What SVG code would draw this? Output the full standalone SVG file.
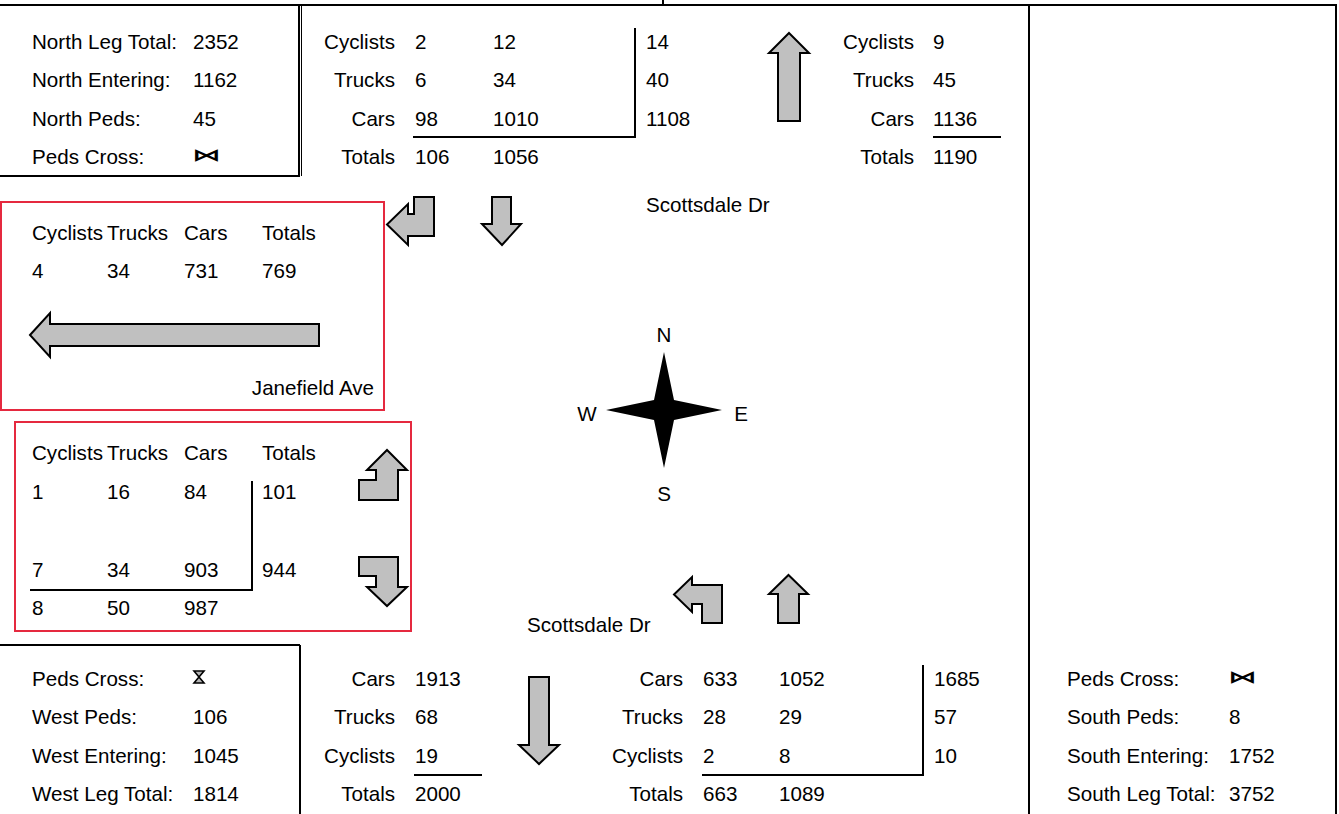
<svg xmlns="http://www.w3.org/2000/svg" width="1339" height="814" viewBox="0 0 1339 814">
<style>
.t{font-family:"Liberation Sans",Arial,sans-serif;font-size:20.6px;fill:#000}
.e{text-anchor:end}
.m{text-anchor:middle}
.ln{stroke:#000;stroke-width:2;fill:none}
.red{stroke:#e5293f;stroke-width:2;fill:none}
.arr{fill:#c0c0c0;stroke:#000;stroke-width:2;stroke-linejoin:miter}
.bt{font-family:"DejaVu Sans",sans-serif;font-weight:bold;font-size:22px;fill:#000}
</style>
<rect width="1339" height="814" fill="#fff"/>
<g id="frame">
<line class="ln" x1="0" y1="5" x2="1337" y2="5"/>
<line class="ln" x1="663" y1="0" x2="663" y2="5"/>
<line class="ln" x1="1336" y1="5" x2="1336" y2="814"/>
<line class="ln" x1="1029" y1="5" x2="1029" y2="814"/>
<line class="ln" x1="299" y1="5" x2="299" y2="176"/>
<line class="ln" x1="301.5" y1="5" x2="301.5" y2="176" style="stroke-width:1"/>
<line class="ln" x1="0" y1="176" x2="300" y2="176"/>
<line class="ln" x1="0" y1="645" x2="300" y2="645"/>
<line class="ln" x1="300" y1="645" x2="300" y2="814"/>
</g>
<g id="north-summary">
<text class="t" x="32" y="48.5">North Leg Total:</text>
<text class="t" x="193" y="48.5">2352</text>
<text class="t" x="32" y="87">North Entering:</text>
<text class="t" x="193" y="87">1162</text>
<text class="t" x="32" y="125.5">North Peds:</text>
<text class="t" x="193" y="125.5">45</text>
<text class="t" x="32" y="163.5">Peds Cross:</text>
<text class="bt" transform="translate(192,161) scale(1.3,0.8)">⋈</text>
</g>
<g id="north-approach">
<text class="t e" x="395" y="48.5">Cyclists</text>
<text class="t e" x="395" y="87">Trucks</text>
<text class="t e" x="395" y="125.5">Cars</text>
<text class="t e" x="395" y="163.5">Totals</text>
<text class="t" x="415" y="48.5">2</text>
<text class="t" x="415" y="87">6</text>
<text class="t" x="415" y="125.5">98</text>
<text class="t" x="415" y="163.5">106</text>
<text class="t" x="493" y="48.5">12</text>
<text class="t" x="493" y="87">34</text>
<text class="t" x="493" y="125.5">1010</text>
<text class="t" x="493" y="163.5">1056</text>
<text class="t" x="646" y="48.5">14</text>
<text class="t" x="646" y="87">40</text>
<text class="t" x="646" y="125.5">1108</text>
<polyline class="ln" points="413,137 635,137 635,28"/>
</g>
<g id="north-exit">
<polygon class="arr" points="789,33 809,53 800,53 800,121 778,121 778,53 769,53"/>
<text class="t e" x="914" y="48.5">Cyclists</text>
<text class="t e" x="914" y="87">Trucks</text>
<text class="t e" x="914" y="125.5">Cars</text>
<text class="t e" x="914" y="163.5">Totals</text>
<text class="t" x="933" y="48.5">9</text>
<text class="t" x="933" y="87">45</text>
<text class="t" x="933" y="125.5">1136</text>
<text class="t" x="933" y="163.5">1190</text>
<line class="ln" x1="933" y1="137" x2="1001" y2="137"/>
</g>
<g id="north-label">
<text class="t" x="646" y="212">Scottsdale Dr</text>
</g>
<g id="north-arrows">
<polygon class="arr" points="434,197 434,236 408,236 408,245 387,224.5 408,204 408,214 414,214 414,197"/>
<polygon class="arr" points="492,197 511,197 511,224 521,224 502,245 482,224 492,224"/>
</g>
<g id="west-exit">
<rect class="red" x="1" y="202" width="383" height="208"/>
<text class="t" x="32" y="240">Cyclists</text>
<text class="t" x="107" y="240">Trucks</text>
<text class="t" x="184" y="240">Cars</text>
<text class="t" x="262" y="240">Totals</text>
<text class="t" x="32" y="278">4</text>
<text class="t" x="107" y="278">34</text>
<text class="t" x="184" y="278">731</text>
<text class="t" x="262" y="278">769</text>
<polygon class="arr" points="30,335 50,313 50,324 319,324 319,346 50,346 50,357"/>
<text class="t e" x="374" y="395">Janefield Ave</text>
</g>
<g id="west-approach">
<rect class="red" x="15" y="422" width="396" height="209"/>
<text class="t" x="32" y="460">Cyclists</text>
<text class="t" x="107" y="460">Trucks</text>
<text class="t" x="184" y="460">Cars</text>
<text class="t" x="262" y="460">Totals</text>
<text class="t" x="32" y="499">1</text>
<text class="t" x="107" y="499">16</text>
<text class="t" x="184" y="499">84</text>
<text class="t" x="262" y="499">101</text>
<text class="t" x="32" y="577">7</text>
<text class="t" x="107" y="577">34</text>
<text class="t" x="184" y="577">903</text>
<text class="t" x="262" y="577">944</text>
<text class="t" x="32" y="615">8</text>
<text class="t" x="107" y="615">50</text>
<text class="t" x="184" y="615">987</text>
<polyline class="ln" points="30,590 252,590 252,481"/>
<polygon class="arr" points="359,500 359,480 376,480 376,470 367,470 387,450 407,470 398,470 398,500"/>
<polygon class="arr" points="359,557 398,557 398,587 407,587 387,606 367,587 376,587 376,576 359,576"/>
</g>
<g id="compass">
<path d="M664,352 L674,400 L722,410 L674,420 L664,468 L654,420 L606,410 L654,400 Z" fill="#000"/>
<text class="t m" x="664" y="342">N</text>
<text class="t m" x="587" y="421">W</text>
<text class="t m" x="741" y="421">E</text>
<text class="t m" x="664" y="501">S</text>
</g>
<g id="south-label">
<text class="t" x="527" y="632">Scottsdale Dr</text>
</g>
<g id="south-arrows">
<polygon class="arr" points="674,594.5 692,577 692,585 722,585 722,623 702,623 702,604 692,604 692,612"/>
<polygon class="arr" points="788.5,575 808,594 799,594 799,623 778,623 778,594 769,594"/>
</g>
<g id="west-summary">
<text class="t" x="32" y="686">Peds Cross:</text>
<path d="M194,671 H204 L199,677 L204,683 H194 L199,677 Z" fill="#b4b4b4" stroke="#000" stroke-width="1.6" stroke-linejoin="miter"/>
<text class="t" x="32" y="724">West Peds:</text>
<text class="t" x="193" y="724">106</text>
<text class="t" x="32" y="762.5">West Entering:</text>
<text class="t" x="193" y="762.5">1045</text>
<text class="t" x="32" y="801">West Leg Total:</text>
<text class="t" x="193" y="801">1814</text>
</g>
<g id="south-exit">
<text class="t e" x="395" y="686">Cars</text>
<text class="t e" x="395" y="724">Trucks</text>
<text class="t e" x="395" y="762.5">Cyclists</text>
<text class="t e" x="395" y="801">Totals</text>
<text class="t" x="415" y="686">1913</text>
<text class="t" x="415" y="724">68</text>
<text class="t" x="415" y="762.5">19</text>
<text class="t" x="415" y="801">2000</text>
<line class="ln" x1="414" y1="775" x2="482" y2="775"/>
<polygon class="arr" points="529,677 549,677 549,745 559,745 539,764 519,745 529,745"/>
</g>
<g id="south-approach">
<text class="t e" x="683" y="686">Cars</text>
<text class="t e" x="683" y="724">Trucks</text>
<text class="t e" x="683" y="762.5">Cyclists</text>
<text class="t e" x="683" y="801">Totals</text>
<text class="t" x="703" y="686">633</text>
<text class="t" x="703" y="724">28</text>
<text class="t" x="703" y="762.5">2</text>
<text class="t" x="703" y="801">663</text>
<text class="t" x="779" y="686">1052</text>
<text class="t" x="779" y="724">29</text>
<text class="t" x="779" y="762.5">8</text>
<text class="t" x="779" y="801">1089</text>
<text class="t" x="934" y="686">1685</text>
<text class="t" x="934" y="724">57</text>
<text class="t" x="934" y="762.5">10</text>
<polyline class="ln" points="702,775 923,775 923,665"/>
</g>
<g id="south-summary">
<text class="t" x="1067" y="686">Peds Cross:</text>
<text class="bt" transform="translate(1228,683) scale(1.3,0.8)">⋈</text>
<text class="t" x="1067" y="724">South Peds:</text>
<text class="t" x="1229" y="724">8</text>
<text class="t" x="1067" y="762.5">South Entering:</text>
<text class="t" x="1229" y="762.5">1752</text>
<text class="t" x="1067" y="801">South Leg Total:</text>
<text class="t" x="1229" y="801">3752</text>
</g>
</svg>
